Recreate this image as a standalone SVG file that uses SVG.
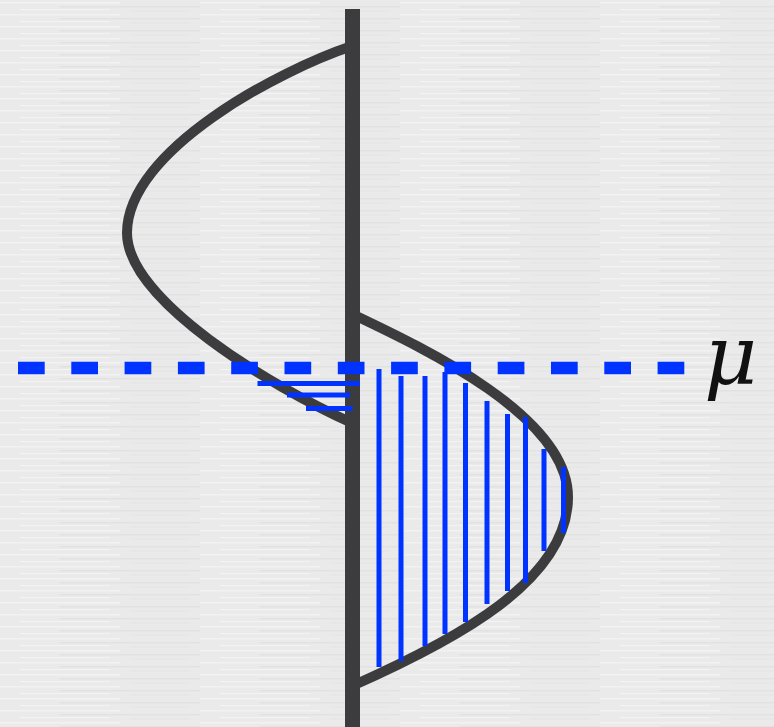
<svg xmlns="http://www.w3.org/2000/svg" width="774" height="727" viewBox="0 0 774 727">
  <style>
    .curve { fill: none; stroke: #3c3c3e; stroke-width: 10; stroke-linecap: butt; }
    .bar { fill: #3c3c3e; }
    .hatch { stroke: #0033ff; stroke-width: 5; fill: none; }
    .mu { font-family: "DejaVu Serif", "Liberation Serif", serif; font-style: italic; font-size: 82px; fill: #111; }
  </style>
  <defs>
    <pattern id="paper" x="0" y="0" width="200" height="12" patternUnits="userSpaceOnUse">
      <rect width="200" height="12" fill="#eaeaea"/>
      <rect x="0" y="2" width="120" height="1.5" fill="#f2f2f2"/>
      <rect x="60" y="6" width="140" height="1.5" fill="#e2e2e2"/>
      <rect x="20" y="9" width="90" height="1.2" fill="#f3f3f3"/>
      <rect x="130" y="10.5" width="60" height="1" fill="#e4e4e4"/>
    </pattern>
  </defs>
  <rect width="774" height="727" fill="url(#paper)"/>

  <g id="left-curve">
    <path class="curve" d="M352,46 C280,70 127,150 127,233 C127,300 270,386 352,423"/>
  </g>
  <g id="right-curve">
    <path class="curve" d="M352,314 C428,350 568,417 568,497 C568,580 458,639 352,686"/>
  </g>
  <g id="axis">
    <rect class="bar" x="345" y="9" width="15" height="718"/>
  </g>

  <g id="hatching-left">
    <line class="hatch" x1="257.5" y1="383.5" x2="360" y2="383.5"/>
    <line class="hatch" x1="287" y1="395" x2="350" y2="395"/>
    <line class="hatch" x1="306" y1="408.5" x2="352.5" y2="408.5"/>
  </g>

  <g id="hatching-right">
    <line class="hatch" x1="379" y1="369" x2="379" y2="667"/>
    <line class="hatch" x1="401" y1="376" x2="401" y2="661"/>
    <line class="hatch" x1="425" y1="376" x2="425" y2="646"/>
    <line class="hatch" x1="445" y1="372" x2="445" y2="634"/>
    <line class="hatch" x1="465.5" y1="383" x2="465.5" y2="622"/>
    <line class="hatch" x1="487" y1="401" x2="487" y2="604"/>
    <line class="hatch" x1="507.5" y1="414" x2="507.5" y2="591"/>
    <line class="hatch" x1="525.5" y1="417" x2="525.5" y2="583"/>
    <line class="hatch" x1="544" y1="449" x2="544" y2="551"/>
    <line class="hatch" x1="563.5" y1="467" x2="563.5" y2="533"/>
  </g>

  <g id="connectors">
    <line id="mu-line" x1="18" y1="368" x2="685" y2="368" stroke="#0033ff" stroke-width="12.5" stroke-dasharray="26.7 26.6"/>
  </g>

  <g id="mu-label">
    <text class="mu" x="704" y="384">μ</text>
  </g>
</svg>
